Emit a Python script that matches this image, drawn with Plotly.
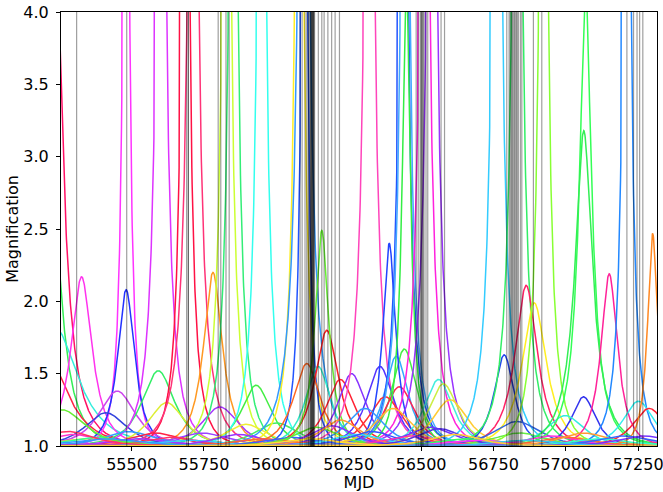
import numpy as np
import plotly.graph_objects as go

# ---- microlensing events: time of maximum (MJD), peak magnification, Einstein time (days)
event_t0 = [
    55237, 55220, 55235, 55200, 55327, 55481, 55481, 55450, 55411, 55592,
    55602, 55621, 55686, 55712, 55781, 55805, 55828, 55851, 55930, 55949,
    56000, 55743, 55895, 55488, 55580, 56079, 56094, 56097, 56105, 56144,
    56174, 56157, 56221, 56260, 56321, 56358, 56414, 56442, 56425, 56376,
    56390, 56440, 56445, 56449, 56512, 56537, 56560, 56577, 56403, 56306,
    56530, 56600, 56762, 56787, 56832, 56863, 56891, 56831, 56840, 56923,
    57061, 56998, 57068, 57062, 57150, 57211, 57251, 57288, 57300,
    # low-amplitude events
    55300, 55350, 55380, 55530, 55640, 55700, 55870, 55960, 56050, 56140,
    56192, 56221, 56280, 56330, 56470, 56563, 56660, 56700, 56950, 57000,
    57063, 57120, 57200, 57270, 56860, 56120, 55260, 55280, 55420, 56620,
]
event_peak = [
    4.5, 3.0, 1.82, 1.65, 2.17, 20.0, 2.08, 1.38, 1.23, 1.52,
    20.0, 1.30, 20.0, 20.0, 2.20, 1.27, 20.0, 20.0, 1.42, 20.0,
    1.16, 1.09, 1.15, 1.10, 1.09, 20.0, 20.0, 20.0, 1.57, 1.55,
    1.80, 2.49, 1.46, 1.50, 20.0, 1.55, 1.62, 1.67, 1.41, 1.34,
    2.40, 20.0, 20.0, 4.3, 20.0, 20.0, 1.46, 1.43, 1.26, 1.26,
    1.13, 1.32, 20.0, 1.63, 20.0, 2.11, 1.99, 1.17, 1.09, 20.0,
    1.34, 1.21, 4.2, 3.18, 2.19, 20.0, 1.31, 1.26, 2.47,
    1.08, 1.05, 1.06, 1.05, 1.06, 1.04, 1.08, 1.05, 1.06, 1.13,
    1.14, 1.18, 1.08, 1.10, 1.07, 1.12, 1.05, 1.04, 1.07, 1.06,
    1.09, 1.05, 1.07, 1.07, 1.04, 1.05, 1.25, 1.10, 1.05, 1.08,
]
event_tE = [
    100, 90, 140, 120, 75, 50, 58, 84, 80, 84,
    76, 75, 62, 83, 68, 75, 69, 69, 70, 69,
    75, 75, 70, 75, 75, 67, 90, 46, 70, 65,
    71, 55, 70, 70, 80, 70, 65, 70, 70, 75,
    50, 67, 69, 50, 76, 80, 70, 70, 75, 75,
    75, 75, 78, 55, 80, 77, 80, 80, 75, 69,
    52, 70, 75, 85, 59, 60, 65, 65, 40,
    70, 70, 70, 70, 70, 70, 70, 70, 70, 70,
    70, 70, 70, 70, 70, 70, 70, 70, 70, 70,
    70, 70, 70, 70, 70, 70, 90, 80, 80, 70,
]
event_color = [
    '#ff1166', '#33ee55', '#33eedd', '#ff2244', '#ff33ee', '#ff33ff', '#2233ff', '#cc44ee', '#3344dd', '#33ee66',
    '#dd33ff', '#ddee33', '#ff1144', '#ff3377', '#ff9922', '#aa33ff', '#ccff33', '#33ee77', '#44ee44', '#33ffee',
    '#44ee66', '#9944ff', '#eeee33', '#3399ff', '#ff2244', '#ffee22', '#3399ff', '#2255ff', '#ff6622', '#33eecc',
    '#ff2222', '#66ee33', '#ff2233', '#8833ff', '#ff44bb', '#5533ff', '#33aaff', '#44ee44', '#ff2255', '#ff3333',
    '#2244ff', '#2255ff', '#44aaff', '#33ee44', '#ff22dd', '#9933ff', '#44eedd', '#ccee44', '#ffbb33', '#3399ff',
    '#7733ff', '#ffcc33', '#33ccff', '#2244ee', '#33ee66', '#ff2266', '#ffee22', '#3366dd', '#66ee44', '#88ff33',
    '#3333ee', '#33eedd', '#33ff55', '#33ee55', '#ff2299', '#2288ff', '#33eeee', '#ff2233', '#ff8822',
    '#ff33cc', '#ffcc33', '#33ff99', '#aa33ff', '#ff3366', '#33ccff', '#9933ff', '#ff6633', '#3366ff', '#66ee33',
    '#8833ff', '#ff9933', '#33ddff', '#3355ff', '#ff33aa', '#5533ee', '#33ff66', '#ff33ff', '#ff33dd', '#ff6633',
    '#ff9933', '#33ffcc', '#3366ff', '#7733ff', '#33ccee', '#ffdd33', '#66ee33', '#ff3366', '#3399ff', '#ffcc33',
]

# ---- epochs marked with vertical gray lines (MJD)
epoch_mjd = [
    55310, 55483, 55690, 55696, 55696, 55799, 55808, 55826, 55837,
    56082, 56089, 56099, 56105, 56110, 56112, 56116, 56118, 56120, 56120, 56122,
    56124, 56124, 56126, 56128, 56128, 56130, 56132, 56145, 56157, 56165,
    56178, 56191, 56203, 56218,
    56483, 56490, 56497, 56500, 56502, 56504, 56507, 56510, 56517, 56523, 56569, 56581,
    56796, 56804, 56808, 56812, 56815, 56818, 56822, 56825, 56829, 56832, 56836,
    56843, 56848, 56888, 56917,
    57211, 57234, 57246, 57255, 57266,
]

x_ticks = [55500, 55750, 56000, 56250, 56500, 56750, 57000, 57250]
y_ticks = [1.0, 1.5, 2.0, 2.5, 3.0, 3.5, 4.0]


def magnification(t, t0, peak, tE):
    u0 = np.sqrt(2.0 * (peak / np.sqrt(peak ** 2 - 1.0) - 1.0))
    u = np.sqrt(u0 ** 2 + ((t - t0) / tE) ** 2)
    return (u ** 2 + 2.0) / (u * np.sqrt(u ** 2 + 4.0))


t = np.arange(55200.0, 57400.0, 1.0)

fig = go.Figure()
for t0, pk, te, col in zip(event_t0, event_peak, event_tE, event_color):
    fig.add_trace(go.Scatter(
        x=t, y=magnification(t, t0, pk, te), mode='lines',
        line=dict(color=col, width=1.5), hoverinfo='skip', showlegend=False))

for m in epoch_mjd:
    fig.add_shape(type='line', xref='x', yref='paper', x0=m, x1=m, y0=0, y1=1,
                  line=dict(color='rgba(0,0,0,0.38)', width=1.2), layer='above')

fig.update_layout(
    width=663, height=492,
    margin=dict(l=61, r=6, t=12, b=46, autoexpand=False),
    paper_bgcolor='white', plot_bgcolor='white',
    font=dict(family='DejaVu Sans', size=16, color='black'),
    showlegend=False,
)
fig.update_xaxes(
    range=[55256, 57315], tickvals=x_ticks, ticktext=[str(v) for v in x_ticks],
    showgrid=False, zeroline=False, showline=True, linecolor='black', linewidth=1,
    mirror=True, ticks='outside', ticklen=4, tickcolor='black', automargin=False,
    ticklabeloverflow='allow',
    title=dict(text='MJD', standoff=2, font=dict(size=16)),
    tickfont=dict(size=16),
)
fig.update_yaxes(
    range=[1.0, 4.0], tickvals=y_ticks, ticktext=['%.1f' % v for v in y_ticks],
    showgrid=False, zeroline=False, showline=True, linecolor='black', linewidth=1,
    mirror=True, ticks='outside', ticklen=4, tickcolor='black', automargin=False,
    ticklabeloverflow='allow', ticklabelstandoff=4,
    title=dict(text='Magnification', standoff=0, font=dict(size=16)),
    tickfont=dict(size=16),
)

fig.write_html('out.html')
